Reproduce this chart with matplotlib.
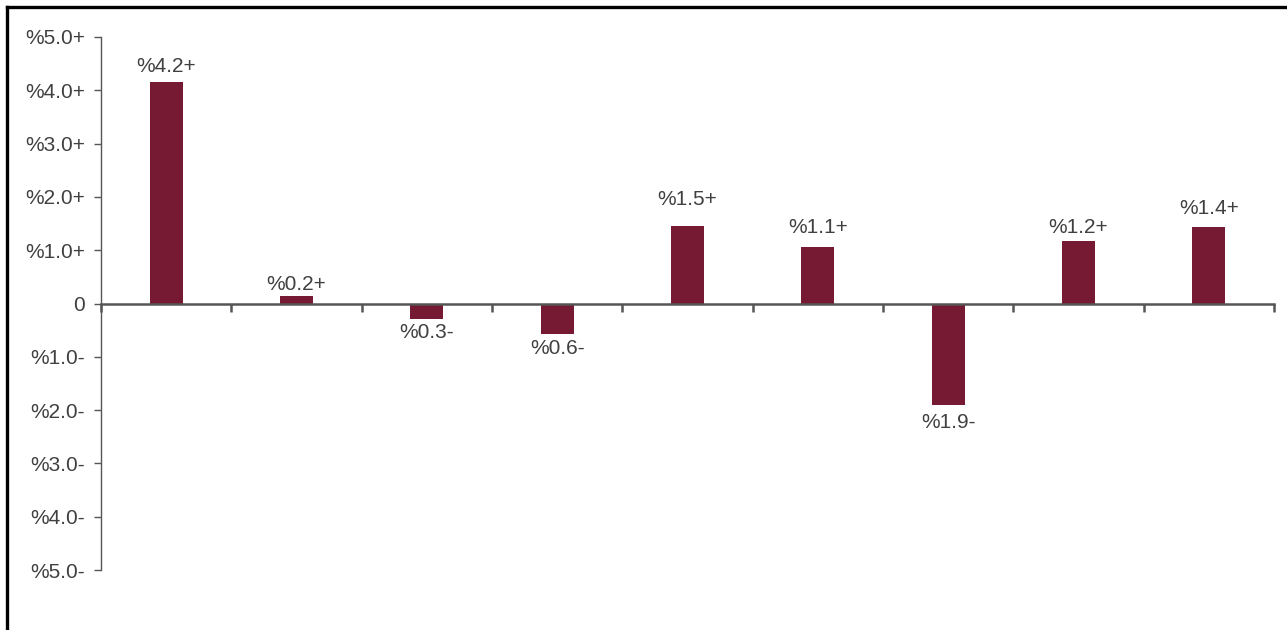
import matplotlib
matplotlib.use("Agg")
import matplotlib.pyplot as plt
from matplotlib.lines import Line2D

values = [4.15, 0.15, -0.3, -0.58, 1.46, 1.06, -1.9, 1.17, 1.43]
bar_labels = ["%4.2+", "%0.2+", "%0.3-", "%0.6-", "%1.5+", "%1.1+", "%1.9-", "%1.2+", "%1.4+"]
yticks = [5, 4, 3, 2, 1, 0, -1, -2, -3, -4, -5]
ytick_labels = ["%5.0+", "%4.0+", "%3.0+", "%2.0+", "%1.0+", "0",
                "%1.0-", "%2.0-", "%3.0-", "%4.0-", "%5.0-"]
# gap between bar end and its label, in pixels (style)
label_gaps_px = [10, 6, 4, 5, 21, 14, 8, 8, 13]

plt.rcParams['font.family'] = ['Liberation Sans', 'DejaVu Sans']
W, H = 1287, 630
fig = plt.figure(figsize=(W / 100, H / 100), dpi=100)
ax = fig.add_axes([101 / W, (H - 570) / H, (1274 - 101) / W, (570 - 37) / H])

bar_color = "#751a32"
text_color = "#404040"
axis_color = "#555555"
fs = 15

x = list(range(len(values)))
ax.bar(x, values, width=0.255, color=bar_color, zorder=2)

for xi, v, lab, g in zip(x, values, bar_labels, label_gaps_px):
    if v >= 0:
        ax.annotate(lab, (xi, v), xytext=(0, g * 0.72), textcoords="offset points",
                    ha="center", va="baseline", fontsize=fs, color=text_color)
    else:
        ax.annotate(lab, (xi, v), xytext=(0, -g * 0.72), textcoords="offset points",
                    ha="center", va="top", fontsize=fs, color=text_color)

ax.set_xlim(-0.5, len(values) - 0.5)
ax.set_ylim(-5, 5)
ax.set_yticks(yticks)
ax.set_yticklabels(ytick_labels)
ax.set_xticks([i - 0.5 for i in range(len(values) + 1)])
ax.set_xticklabels([])

for s in ["top", "right"]:
    ax.spines[s].set_visible(False)
ax.spines["bottom"].set_position(("data", 0))
ax.spines["bottom"].set_color(axis_color)
ax.spines["bottom"].set_linewidth(1.8)
ax.spines["left"].set_color(axis_color)
ax.spines["left"].set_linewidth(1.0)

ax.tick_params(axis="y", direction="out", length=5, width=1.0, color=axis_color,
               labelsize=fs, labelcolor=text_color, pad=6.5)
ax.tick_params(axis="x", direction="out", length=6, width=1.8, color=axis_color)

# outer frame (left and top edges)
fig.add_artist(Line2D([7 / W, 7 / W], [0, 1 - 7 / H], transform=fig.transFigure,
                      color="black", linewidth=2.4, solid_capstyle="projecting"))
fig.add_artist(Line2D([7 / W, 1], [1 - 7 / H, 1 - 7 / H], transform=fig.transFigure,
                      color="black", linewidth=2.4, solid_capstyle="projecting"))

fig.savefig("out.png", dpi=100)
